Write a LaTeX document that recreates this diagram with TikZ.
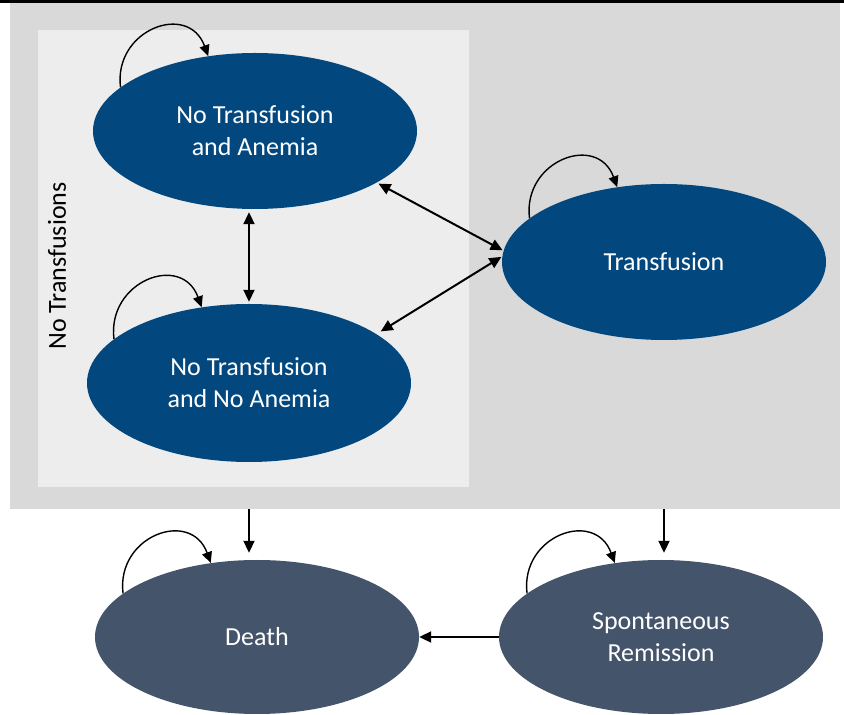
\documentclass[tikz,border=0pt]{standalone}
\usepackage{fontspec}
\setmainfont{Carlito}
\usetikzlibrary{shapes.geometric,arrows.meta}
\definecolor{stateblue}{HTML}{02487E}
\definecolor{stateslate}{HTML}{44546A}
\definecolor{outgray}{HTML}{D9D9D9}
\definecolor{ingray}{HTML}{EDEDED}
\begin{document}
\begin{tikzpicture} [x=1pt, y=1pt, >={Triangle[length=12pt,width=11pt]},
	state/.style={ellipse, fill=stateblue, text=white, minimum width=324pt, minimum height=156pt, inner sep=0pt, align=center, font=\fontsize{26}{32}\selectfont},
	endstate/.style={state, fill=stateslate, minimum height=154pt},
	flow/.style={line width=2pt},
	selfloop/.style={line width=1.4pt, ->, >={Triangle[length=11pt,width=10pt]}}]
	\useasboundingbox (0,0) rectangle (844,715);
	\draw [line width=3pt] (0,713.5) -- (844,713.5);
	\node [fill=outgray, minimum width=830pt, minimum height=506pt, inner sep=0pt] (group) at (425,459) {};
	\node [fill=ingray, minimum width=431pt, minimum height=457pt, inner sep=0pt] (nobox) at (253.5,456.5) {};
	\node [rotate=90, font=\fontsize{26}{32}\selectfont] (nolabel) at (57,449) {No Transfusions};
	\node [state] (nta) at (255,584) {No Transfusion\\and Anemia};
	\node [state, minimum height=158pt] (ntna) at (249,332) {No Transfusion\\and No Anemia};
	\node [state] (tr) at (664,453) {Transfusion};
	\node [endstate] (death) at (257,78) {Death};
	\node [endstate] (rem) at (661,78) {Spontaneous\\Remission};
	% self transitions
	\foreach \s in {nta,ntna,tr,death,rem}
		\draw [selfloop] (\s.162) to [out=97, in=110, looseness=1.6] (\s.122);
	\draw [flow, <->, shorten <=3pt, shorten >=2pt] (ntna.north |- nta.south) -- (ntna.north);
	\draw [flow, <->, shorten <=2pt, shorten >=1pt] (nta.-23) -- (tr.176);
	\draw [flow, <->, shorten <=5pt, shorten >=1pt] (ntna.21) -- (tr.178);
	\draw [flow, ->, shorten >=7pt] (group.south -| ntna.north) -- (ntna.north |- death.north);
	\draw [flow, ->, shorten >=7pt] (group.south -| tr.south) -- (tr.south |- rem.north);
	\draw [flow, ->] (rem.west) -- (death.east);
\end{tikzpicture}
\end{document}
